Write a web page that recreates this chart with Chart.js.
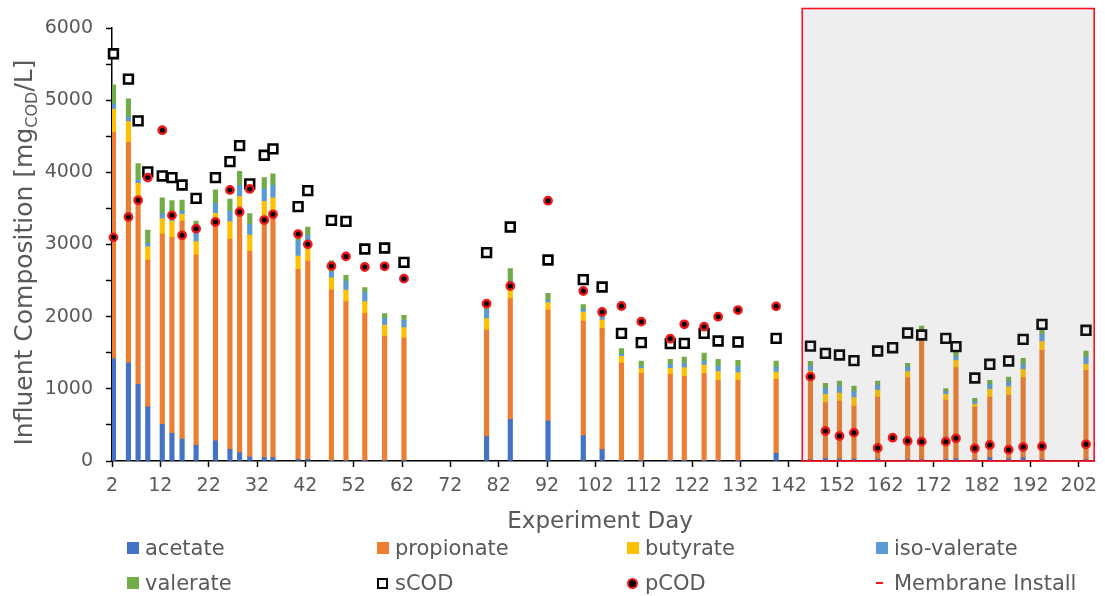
<!DOCTYPE html>
<html><head><meta charset="utf-8">
<script src="https://cdn.jsdelivr.net/npm/chart.js@4/dist/chart.umd.min.js"></script>
<style>
html,body{margin:0;padding:0;background:#fff;}
#wrap{position:relative;width:1105px;height:596px;font-family:"DejaVu Sans",sans-serif;}
#c{position:absolute;left:0;top:0;}
.lg{position:absolute;height:26px;display:flex;align-items:center;font-size:21px;color:#595959;white-space:nowrap;}
.mk{display:inline-block;box-sizing:border-box;flex:none;}
</style></head><body>
<div id="wrap"><canvas id="c" width="1105" height="596"></canvas><div id="legend"></div></div>
<script>
// ---- data ----
const days = [2.3,5.4,7.4,9.4,12.4,14.4,16.5,19.4,23.4,26.4,28.4,30.5,33.5,35.3,40.5,42.5,47.4,50.4,54.3,58.4,62.4,79.5,84.4,92.2,99.5,103.4,107.4,111.5,117.5,120.4,124.5,127.4,131.5,139.4,146.5,149.6,152.5,155.5,160.4,163.5,166.6,169.5,174.5,176.6,180.5,183.6,187.5,190.5,194.4,203.5];
const acetate = [1420,1360,1064,749,509,384,305,217,278,162,116,55,46,46,23,23,10,10,10,10,10,337,577,554,351,157,10,10,10,10,10,10,10,106,20,32,25,25,25,null,20,20,20,30,20,46,30,46,20,20];
const propionate = [3136,3057,2608,2035,2636,2715,3021,2637,3080,2914,3408,2854,3317,3418,2632,2748,2358,2196,2032,1722,1694,1478,1672,1538,1589,1681,1348,1205,1191,1159,1200,1108,1108,1026,1135,776,806,737,862,null,1135,1680,825,1263,728,841,885,1109,1514,1236];
const butyrate = [319,287,176,185,213,227,92,185,74,240,139,222,235,181,185,175,171,162,166,153,144,157,130,102,125,116,92,64,83,124,120,120,106,101,92,116,111,116,97,null,83,64,79,102,37,106,115,115,120,84];
const isoValerate = [74,60,47,47,69,20,46,129,134,139,157,153,172,175,210,185,84,125,125,92,101,130,115,32,37,55,28,28,56,65,56,78,83,60,69,83,97,83,69,null,65,37,37,60,37,69,69,70,101,101];
const valerate = [264,254,226,185,218,262,153,158,190,176,195,143,157,158,100,111,150,79,69,65,70,69,171,97,64,30,79,79,69,83,111,93,88,93,65,69,70,78,56,null,50,70,41,69,46,56,65,83,56,83];
const sCOD = [5643,5291,4713,4006,3950,3927,3825,3640,3927,4149,4371,3839,4237,4325,3524,3746,3335,3320,2938,2952,2753,2887,3243,2785,2513,2411,1769,1640,1626,1630,1769,1663,1649,1700,1592,1492,1469,1390,1524,1570,1774,1746,1700,1584,1150,1340,1386,1686,1894,1811];
const pCOD = [3099,3381,3612,3927,4584,3404,3127,3219,3312,3756,3450,3770,3339,3418,3145,3002,2701,2835,2688,2698,2527,2180,2425,3607,2356,2065,2148,1931,1695,1894,1861,2000,2092,2143,1169,416,346,393,180,323,277,268,268,314,176,222,157,194,203,231];
const xTickValues = [2,12,22,32,42,52,62,72,82,92,102,112,122,132,142,152,162,172,182,192,202];
const xMin = 2, xMax = 205.2, yMax = 6000;
const membraneStart = 144.8, membraneEnd = 205.2, membraneTop = 6270;
const seriesNames = ['acetate','propionate','butyrate','iso-valerate','valerate','sCOD','pCOD','Membrane Install'];
const barColors = ['#4472C4','#ED7D31','#FFC000','#5B9BD5','#70AD47'];
const xTitle = 'Experiment Day';
const yTitleParts = ['Influent Composition [mg', 'COD', '/L]'];

const barSeries = [acetate, propionate, butyrate, isoValerate, valerate];
const toXY = arr => days.map((d,i)=>({x:d, y:arr[i]}));

const datasets = barSeries.map((arr,k)=>({
  type:'bar', label:seriesNames[k], data:toXY(arr), backgroundColor:barColors[k],
  barThickness:4.5, order:3, stack:'vfa'
}));
datasets.push({type:'scatter', label:'sCOD', data:toXY(sCOD), pointStyle:'rect', pointRadius:6.2,
  backgroundColor:'#ffffff', borderColor:'#000000', borderWidth:2.6, order:2, stack:'s1', clip:false});
datasets.push({type:'scatter', label:'pCOD', data:toXY(pCOD), pointStyle:'circle', pointRadius:3.7,
  backgroundColor:'#000000', borderColor:'#F01818', borderWidth:2.4, order:1, stack:'s2', clip:false});

const membranePlugin = {
  id:'membrane',
  beforeDatasetDraw(chart, args){
    if (chart.data.datasets[args.index].label !== 'pCOD') return;
    const {x, y} = chart.scales, ctx = chart.ctx;
    const l = x.getPixelForValue(membraneStart), r = x.getPixelForValue(membraneEnd);
    const t = y.getPixelForValue(membraneTop), b = y.getPixelForValue(0);
    ctx.save(); ctx.fillStyle = 'rgba(120,120,120,0.13)'; ctx.fillRect(l, t, r-l, b-t); ctx.restore();
  },
  afterDatasetsDraw(chart){
    const {x, y} = chart.scales, ctx = chart.ctx;
    const l = x.getPixelForValue(membraneStart), r = x.getPixelForValue(membraneEnd);
    const t = y.getPixelForValue(membraneTop), b = y.getPixelForValue(0);
    ctx.save(); ctx.strokeStyle = '#FF1020'; ctx.lineWidth = 1.6; ctx.strokeRect(l, t, r-l, b-t); ctx.restore();
  }
};

const titlePlugin = {
  id:'titles',
  afterDraw(chart){
    const ctx = chart.ctx, a = chart.chartArea;
    ctx.save();
    ctx.fillStyle = '#595959';
    ctx.font = '23px "DejaVu Sans"';
    ctx.textAlign = 'center'; ctx.textBaseline = 'alphabetic';
    ctx.fillText(xTitle, (a.left + a.right)/2 - 3, a.bottom + 67);
    // y title with subscript
    const big = '25px "DejaVu Sans"', small = '16px "DejaVu Sans"';
    ctx.font = big; const w0 = ctx.measureText(yTitleParts[0]).width, w2 = ctx.measureText(yTitleParts[2]).width;
    ctx.font = small; const w1 = ctx.measureText(yTitleParts[1]).width;
    const total = w0 + w1 + w2;
    ctx.translate(32, (a.top + a.bottom)/2 + 8);
    ctx.rotate(-Math.PI/2);
    ctx.textAlign = 'left';
    let cx = -total/2;
    ctx.font = big; ctx.fillText(yTitleParts[0], cx, 0); cx += w0;
    ctx.font = small; ctx.fillText(yTitleParts[1], cx, 5); cx += w1;
    ctx.font = big; ctx.fillText(yTitleParts[2], cx, 0);
    ctx.restore();
  }
};

const tickFont = {family:'DejaVu Sans', size:19};
new Chart(document.getElementById('c'), {
  type:'bar',
  data:{datasets},
  options:{
    responsive:false, animation:false, devicePixelRatio:1,
    layout:{padding:{top:28, right:7, left:0, bottom:0}},
    plugins:{legend:{display:false}, tooltip:{enabled:false}},
    scales:{
      x:{type:'linear', min:xMin, max:xMax, offset:false, stacked:true,
        afterBuildTicks: s => { s.ticks = xTickValues.map(v=>({value:v})); },
        afterFit: s => { s.height = 135; },
        grid:{drawOnChartArea:false, offset:false, tickLength:6, tickColor:'#000', tickWidth:1.5},
        border:{color:'#000', width:1.5},
        ticks:{autoSkip:false, maxRotation:0, minRotation:0, padding:8, color:'#595959', font:tickFont}
      },
      y:{type:'linear', min:0, max:yMax, stacked:true,
        afterFit: s => { s.width = 112; },
        grid:{drawOnChartArea:false, tickLength:6, tickColor:'#000', tickWidth:1.5},
        border:{color:'#000', width:1.5},
        ticks:{stepSize:500, autoSkip:false, padding:13, color:'#595959', font:tickFont,
          callback: v => (v % 1000 === 0 ? String(v) : '')}
      }
    }
  },
  plugins:[membranePlugin, titlePlugin]
});

// ---- legend (HTML) ----
const legendCols = [127, 377, 627, 876];
const legendRows = [548, 583];
const legendHost = document.getElementById('legend');
seriesNames.forEach((name, i) => {
  const item = document.createElement('div');
  item.className = 'lg';
  item.style.left = legendCols[i % 4] + 'px';
  item.style.top = (legendRows[Math.floor(i / 4)] - 13) + 'px';
  const mk = document.createElement('span');
  mk.className = 'mk';
  if (i < 5) { mk.style.cssText = `width:12px;height:12px;background:${barColors[i]};margin-right:6px;`; }
  else if (name === 'sCOD') { mk.style.cssText = 'width:11px;height:11px;background:#fff;border:2.6px solid #000;margin-right:7px;'; }
  else if (name === 'pCOD') { mk.style.cssText = 'width:11px;height:11px;background:#000;border:2.5px solid #F01818;border-radius:50%;margin-right:7px;'; }
  else { mk.style.cssText = 'width:7px;height:2px;background:#FF1020;margin-right:11px;'; }
  const tx = document.createElement('span');
  tx.textContent = name;
  item.appendChild(mk); item.appendChild(tx);
  legendHost.appendChild(item);
});
</script>
</body></html>
